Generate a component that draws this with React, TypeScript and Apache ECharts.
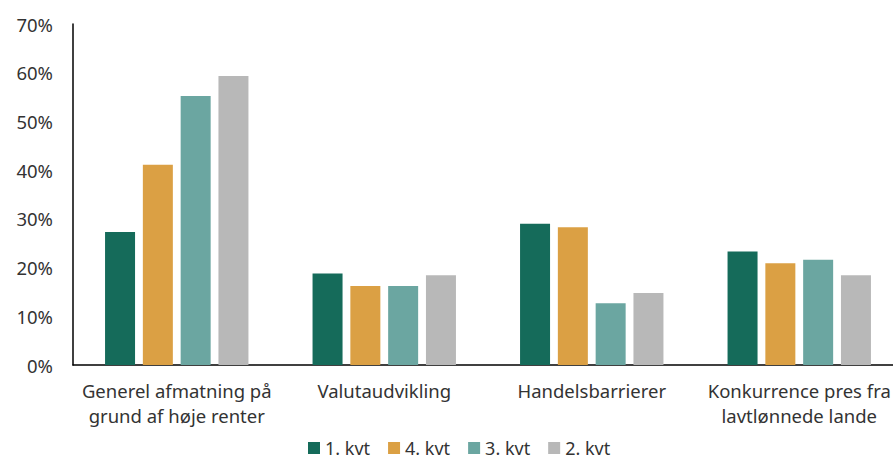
import React, { useEffect, useRef } from "react";
import * as echarts from "echarts";

const categories = [
  "Generel afmatning på\ngrund af høje renter",
  "Valutaudvikling",
  "Handelsbarrierer",
  "Konkurrence pres fra\nlavtlønnede lande",
];
const seriesNames = ["1. kvt", "4. kvt", "3. kvt", "2. kvt"];
const q1 = [27.3, 18.8, 29.0, 23.3];
const q4 = [41.1, 16.2, 28.3, 20.9];
const q3 = [55.2, 16.2, 12.7, 21.6];
const q2 = [59.3, 18.4, 14.8, 18.4];
const colors = ["#156b5a", "#dba044", "#6ba6a1", "#b8b8b8"];
const yTicks = [0, 10, 20, 30, 40, 50, 60, 70];

export default function App() {
  const ref = useRef<HTMLDivElement>(null);
  useEffect(() => {
    if (!ref.current) return;
    const chart = echarts.init(ref.current, undefined, { renderer: "svg" });
    const values = [q1, q4, q3, q2];
    const font = "Noto Sans";
    const fs = 18.5;
    chart.setOption({
      animation: false,
      textStyle: { fontFamily: font },
      grid: { left: 73, top: 24, bottom: 97, right: 7, containLabel: false },
      legend: {
        left: 308,
        top: 439,
        padding: 0,
        itemWidth: 12,
        itemHeight: 12,
        itemGap: 18,
        icon: "rect",
        textStyle: { fontFamily: font, fontSize: 18, color: "#333" },
        data: seriesNames,
      },
      xAxis: {
        type: "category",
        data: categories,
        axisLine: { show: true, lineStyle: { color: "#000", width: 1.5 } },
        axisTick: { show: false },
        axisLabel: {
          fontFamily: font,
          fontSize: fs,
          color: "#333",
          margin: 13,
          lineHeight: 25,
          interval: 0,
        },
      },
      yAxis: {
        type: "value",
        min: yTicks[0],
        max: yTicks[yTicks.length - 1],
        interval: 10,
        splitLine: { show: false },
        axisLine: { show: true, lineStyle: { color: "#000", width: 1.5 } },
        axisTick: { show: false },
        axisLabel: {
          fontFamily: font,
          fontSize: fs,
          color: "#333",
          margin: 20,
          formatter: (v: number) => `${v}%`,
        },
      },
      series: seriesNames.map((name, i) => ({
        name,
        type: "bar",
        data: values[i],
        barWidth: 30,
        barGap: "26%",
        itemStyle: { color: colors[i] },
      })),
    });
    return () => chart.dispose();
  }, []);
  return (
    <div
      style={{
        position: "fixed",
        left: 0,
        top: 0,
        width: 893,
        height: 462,
        overflow: "hidden",
        background: "#fff",
      }}
    >
      <div ref={ref} style={{ width: 910, height: 462 }} />
    </div>
  );
}
